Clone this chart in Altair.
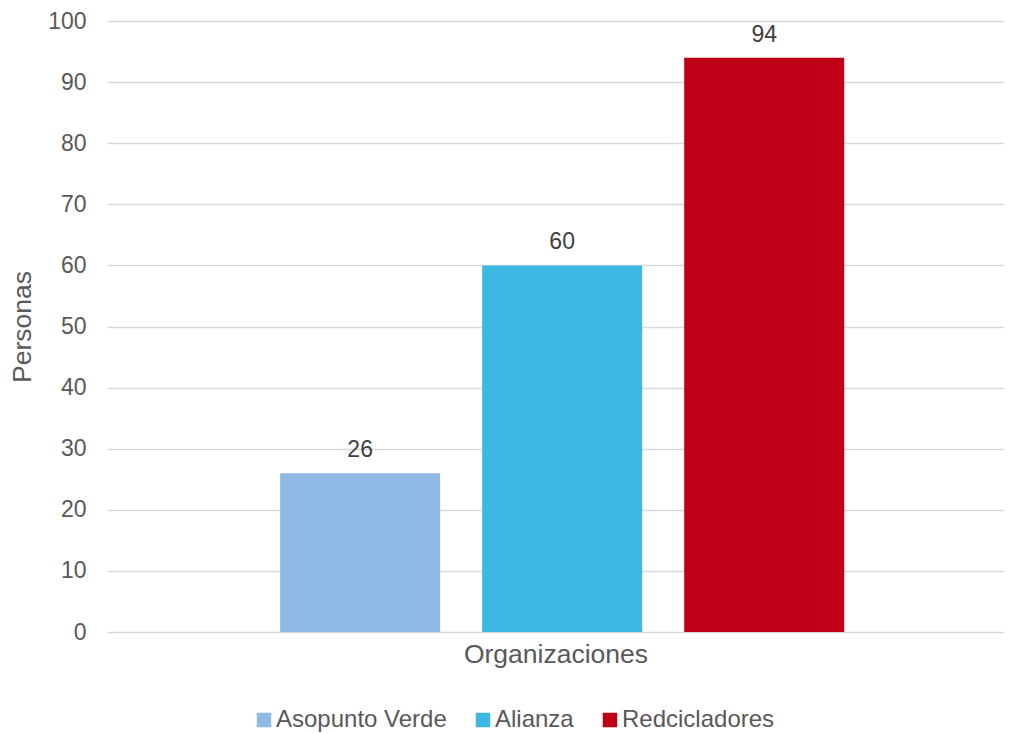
import altair as alt
import pandas as pd

organizaciones = ["Asopunto Verde", "Alianza", "Redcicladores"]
personas = [26, 60, 94]
colores = ["#8FB9E5", "#3CB8E3", "#C00017"]
y_ticks = list(range(0, 101, 10))

df = pd.DataFrame({"org": organizaciones, "personas": personas})

FONT = "Liberation Sans"
GREY = "#595959"

x = alt.X(
    "org:N",
    sort=organizaciones,
    scale=alt.Scale(paddingInner=0.208, paddingOuter=0.824, align=0.52),
    axis=alt.Axis(labels=False, ticks=False, domain=False, grid=False, title="Organizaciones",
                  titleFontSize=26.5, titleFontWeight="normal", titleColor=GREY,
                  titleFont=FONT, titlePadding=9),
)
y = alt.Y(
    "personas:Q",
    scale=alt.Scale(domain=[0, 100], nice=False),
    axis=alt.Axis(values=y_ticks, grid=True, gridColor="#d9d9d9", gridWidth=1.5,
                  domain=False, ticks=False, labelFontSize=23, labelColor=GREY,
                  labelFont=FONT, labelPadding=21, title="Personas", titleFontSize=26.5,
                  titleFontWeight="normal", titleColor=GREY, titleFont=FONT, titlePadding=11),
)
color = alt.Color(
    "org:N",
    sort=organizaciones,
    scale=alt.Scale(domain=organizaciones, range=colores),
    legend=alt.Legend(orient="none", direction="horizontal", legendX=145, legendY=687,
                      title=None, symbolType="square", symbolSize=210, symbolStrokeWidth=0,
                      symbolOpacity=1, labelFontSize=24, labelColor=GREY, labelFont=FONT,
                      labelLimit=400, columnPadding=24, labelOffset=0),
)

bars = alt.Chart(df).mark_bar().encode(x=x, y=y, color=color)
labels = alt.Chart(df).mark_text(baseline="alphabetic", dy=-16, fontSize=23,
                                 color="#404040", font=FONT).encode(
    x=alt.X("org:N", sort=organizaciones), y="personas:Q", text="personas:Q")

chart = (bars + labels).properties(
    width=897, height=611,
    autosize=alt.AutoSizeParams(type="none"),
    padding={"left": 99, "top": 13, "right": 0, "bottom": 100},
).configure(font=FONT).configure_view(strokeWidth=0)

chart.save("out.html", embed_options={"renderer": "svg", "actions": False})
